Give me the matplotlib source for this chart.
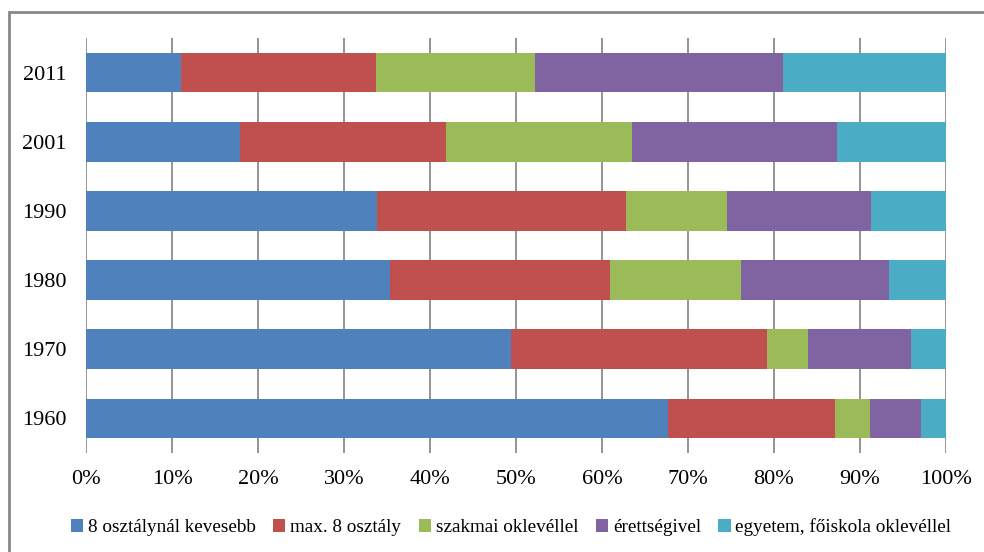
import matplotlib
matplotlib.use("Agg")
import matplotlib.pyplot as plt
import matplotlib.patches as patches
import numpy as np

plt.rcParams['font.family'] = ['Liberation Serif', 'DejaVu Serif']

years = ['1960', '1970', '1980', '1990', '2001', '2011']
series = ['8 osztálynál kevesebb', 'max. 8 osztály', 'szakmai oklevéllel',
          'érettségivel', 'egyetem, főiskola oklevéllel']
# percentage shares per year (1960 ... 2011)
kevesebb = [67.7, 49.4, 35.3, 33.8, 17.9, 11.0]
max8 = [19.4, 29.8, 25.6, 29.0, 24.0, 22.7]
szakmai = [4.1, 4.8, 15.3, 11.7, 21.6, 18.5]
erettsegi = [5.9, 11.9, 17.2, 16.8, 23.8, 28.8]
egyetem = [2.9, 4.1, 6.6, 8.7, 12.7, 19.0]
colors = ['#4F81BD', '#C0504D', '#9BBB59', '#8064A2', '#4BACC6']

data = [kevesebb, max8, szakmai, erettsegi, egyetem]

fig = plt.figure(figsize=(9.84, 5.52), dpi=100)
ax = fig.add_axes([86/984, 1-453/552, 860/984, 415/552])

y = np.arange(len(years))
left = np.zeros(len(years))
for vals, name, c in zip(data, series, colors):
    ax.barh(y, vals, left=left, height=0.575, color=c, label=name, zorder=3)
    left += np.array(vals)

ax.set_xlim(0, 100)
ax.set_ylim(-0.5, 5.5)
ax.set_yticks(y)
ax.set_yticklabels(years, fontsize=16)
ax.set_xticks(range(0, 101, 10))
ax.set_xticklabels([f"{v}%" for v in range(0, 101, 10)], fontsize=16)
ax.tick_params(axis='both', length=0)
ax.tick_params(axis='y', pad=14)
ax.tick_params(axis='x', pad=12)
ax.grid(axis='x', color='#8c8c8c', linewidth=1.3, zorder=0)
for s in ax.spines.values():
    s.set_visible(False)

leg = fig.legend(loc='center', bbox_to_anchor=(511/984, 1-527/552), ncol=5,
                 frameon=False, fontsize=13.8, handlelength=0.65, handleheight=0.65,
                 handletextpad=0.25, columnspacing=0.9)

frame = patches.Rectangle((9/984, -0.1), 1.1, 1-12/552+0.1, transform=fig.transFigure,
                          fill=False, edgecolor='#888888', linewidth=2, clip_on=False)
fig.patches.append(frame)

fig.savefig('out.png', dpi=100)
